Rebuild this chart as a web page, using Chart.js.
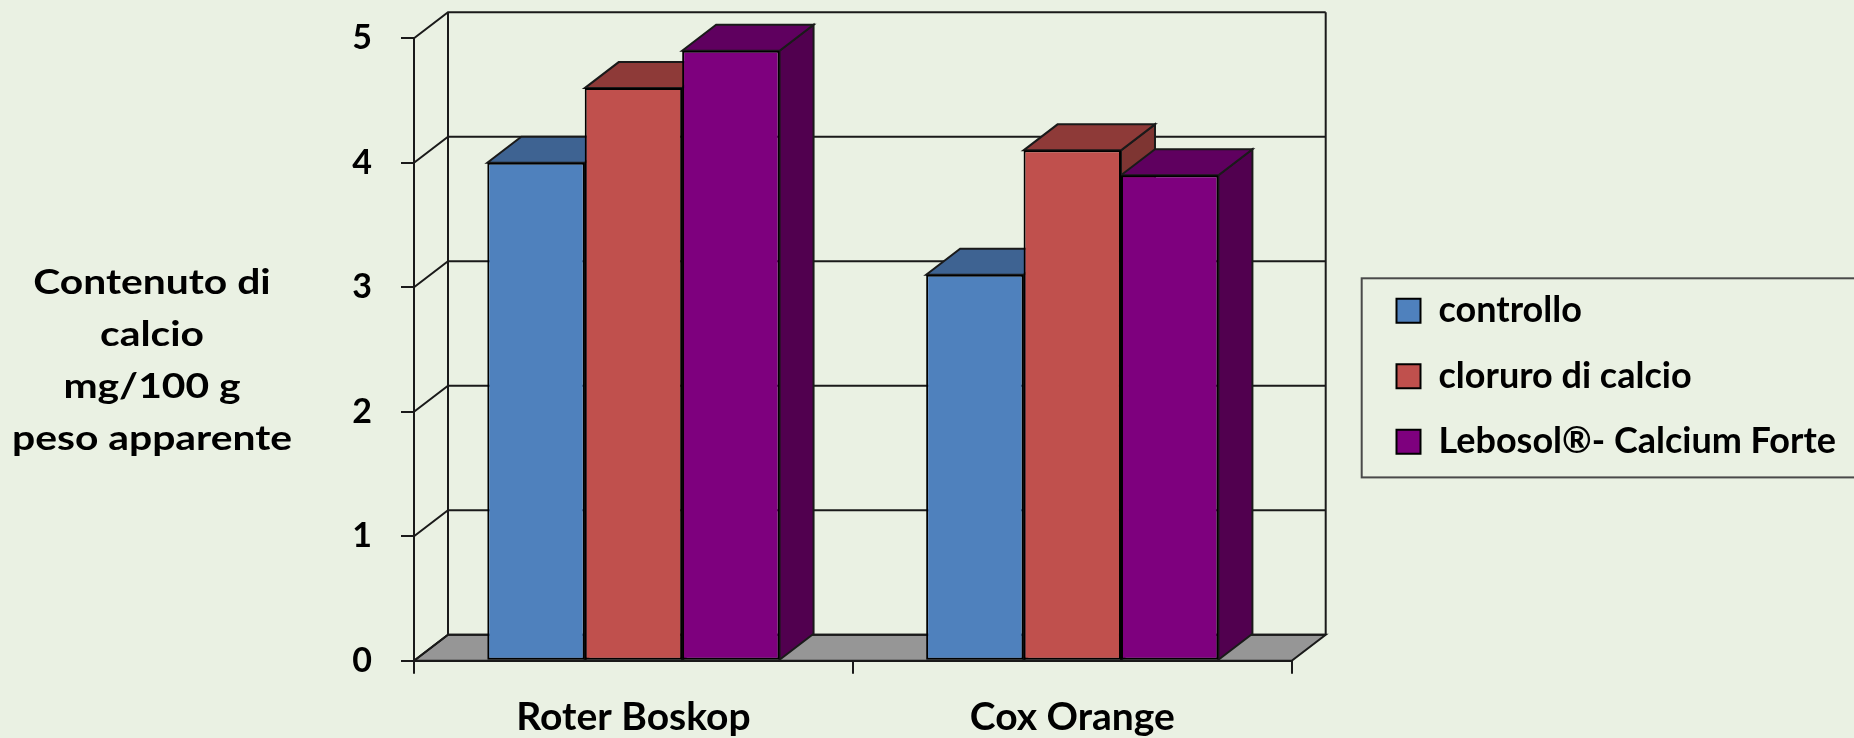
<!DOCTYPE html>
<html><head><meta charset="utf-8">
<script src="https://cdn.jsdelivr.net/npm/chart.js@4.4.1/dist/chart.umd.min.js"></script>
<style>
html,body{margin:0;padding:0;background:#EAF1E3;}
#wrap{position:relative;width:1854px;height:738px;overflow:hidden;}
canvas{position:absolute;left:0;top:0;}
#ytitle{position:absolute;left:-8px;top:255px;width:320px;text-align:center;font-family:Lato;font-weight:bold;font-size:34px;line-height:52px;color:#000;transform:scaleX(1.2);transform-origin:160px 0;}
</style></head><body>
<div id="wrap"><canvas id="c" width="1854" height="738"></canvas><div id="ytitle"></div></div>
<script>
// ---- data ----
const categories = ['Roter Boskop', 'Cox Orange'];
const seriesLabels = ['controllo', 'cloruro di calcio', 'Lebosol®- Calcium Forte'];
const controlloValues = [4.0, 3.1];
const cloruroValues = [4.6, 4.1];
const lebosolValues = [4.9, 3.9];
const yTickValues = [0, 1, 2, 3, 4, 5];
const yTitleLines = ['Contenuto di', 'calcio', 'mg/100 g', 'peso apparente'];

// ---- styles ----
const FRONT = ['#4F81BD', '#C0504D', '#7E007E'];
const TOPC = ['#3E6392', '#8E3A38', '#5F005F'];
const SIDEC = ['#33527A', '#7E3532', '#51004F'];
const DX = 34, DY = 26;
const LINE = '#1a1a1a';
const FONT = 'Lato';

document.getElementById('ytitle').innerHTML = yTitleLines.join('<br>');

const seriesValues = [controlloValues, cloruroValues, lebosolValues];

const threeD = {
  id: 'threeD',
  afterLayout(chart) {
    const lg = chart.legend;
    const w = lg.width;
    lg.left = 1367; lg.right = 1367 + w;
    lg.top = 376.3 - 200; lg.bottom = 376.3 + 200; lg.height = 400;
  },
  beforeDatasetsDraw(chart) {
    const {ctx, chartArea: a, scales: {y}} = chart;
    ctx.save();
    ctx.lineWidth = 2; ctx.strokeStyle = LINE; ctx.lineJoin = 'miter';
    const y0 = y.getPixelForValue(0);
    // floor
    ctx.beginPath();
    ctx.moveTo(a.left, y0); ctx.lineTo(a.left + DX, y0 - DY);
    ctx.lineTo(a.right + DX, y0 - DY); ctx.lineTo(a.right, y0); ctx.closePath();
    ctx.fillStyle = '#969696'; ctx.fill(); ctx.stroke();
    // side wall diagonals + back wall grid
    y.ticks.forEach(t => {
      const py = y.getPixelForValue(t.value);
      ctx.beginPath();
      ctx.moveTo(a.left, py); ctx.lineTo(a.left + DX, py - DY); ctx.lineTo(a.right + DX, py - DY);
      ctx.stroke();
    });
    const yt = y.getPixelForValue(y.max);
    ctx.beginPath();
    ctx.moveTo(a.left + DX, yt - DY); ctx.lineTo(a.left + DX, y0 - DY);
    ctx.moveTo(a.right + DX, yt - DY); ctx.lineTo(a.right + DX, y0 - DY);
    ctx.stroke();
    // bar top and side faces
    const n = chart.data.datasets.length;
    const count = chart.data.labels.length;
    for (let j = 0; j < count; j++) {
      for (let i = 0; i < n; i++) {
        const ds = chart.data.datasets[i];
        const bar = chart.getDatasetMeta(i).data[j];
        const p = bar.getProps(['x', 'y', 'base', 'width'], true);
        const l = p.x - p.width / 2, r = p.x + p.width / 2;
        ctx.beginPath();
        ctx.moveTo(r, p.y); ctx.lineTo(r + DX, p.y - DY); ctx.lineTo(r + DX, p.base - DY); ctx.lineTo(r, p.base); ctx.closePath();
        ctx.fillStyle = ds.sideColor; ctx.fill(); ctx.stroke();
        ctx.beginPath();
        ctx.moveTo(l, p.y); ctx.lineTo(l + DX, p.y - DY); ctx.lineTo(r + DX, p.y - DY); ctx.lineTo(r, p.y); ctx.closePath();
        ctx.fillStyle = ds.topColor; ctx.fill(); ctx.stroke();
      }
    }
    ctx.restore();
  },
  afterDraw(chart) {
    const hb = chart.legend.legendHitBoxes;
    if (!hb || !hb.length) return;
    const ctx = chart.ctx;
    const first = hb[0], last = hb[hb.length - 1];
    const left = first.left - 34.8;
    const top = first.top + first.height / 2 - 32.5;
    const bottom = last.top + last.height / 2 + 35.6;
    ctx.save();
    ctx.strokeStyle = '#4a4a4a'; ctx.lineWidth = 2;
    ctx.strokeRect(left, top, chart.width + 20 - left, bottom - top);
    ctx.restore();
  }
};

const chart = new Chart(document.getElementById('c'), {
  type: 'bar',
  data: {
    labels: categories,
    datasets: seriesLabels.map((lab, i) => ({
      label: lab,
      data: seriesValues[i],
      backgroundColor: FRONT[i],
      borderColor: '#000',
      borderWidth: 2,
      borderSkipped: false,
      topColor: TOPC[i],
      sideColor: SIDEC[i],
      categoryPercentage: 0.666,
      barPercentage: 1.0
    }))
  },
  options: {
    responsive: false,
    animation: false,
    devicePixelRatio: 1,
    layout: {padding: {left: 0, right: 0, top: 38.3, bottom: 0}},
    plugins: {
      tooltip: {enabled: false},
      legend: {
        position: 'right',
        align: 'center',
        maxWidth: 700,
        labels: {
          boxWidth: 24, boxHeight: 24, padding: 29.5,
          color: '#000',
          font: {family: FONT, weight: 'bold', size: 36}
        }
      }
    },
    scales: {
      x: {
        ticks: {color: '#000', padding: 20, maxRotation: 0, font: {family: FONT, weight: 'bold', size: 39}},
        grid: {drawOnChartArea: false, drawTicks: true, tickLength: 13, color: LINE, lineWidth: 2, offset: true},
        border: {display: true, color: LINE, width: 2},
        afterFit(s) { s.height = 738 - 660.7; }
      },
      y: {
        min: 0, max: 5,
        ticks: {color: '#000', padding: 29, stepSize: 1, font: {family: FONT, weight: 'bold', size: 34}},
        afterBuildTicks(s) { s.ticks = yTickValues.map(v => ({value: v})); },
        grid: {drawOnChartArea: false, drawTicks: true, tickLength: 13, color: LINE, lineWidth: 2},
        border: {display: true, color: LINE, width: 2},
        afterFit(s) { s.width = 414; s.paddingTop = 0; s.paddingBottom = 0; }
      },
      y2: {
        type: 'linear', position: 'right', min: 0, max: 1,
        ticks: {display: false}, grid: {display: false}, border: {display: false},
        afterFit(s) { s.width = s.chart.width - s.chart.legend.width - 1291.7; s.paddingTop = 0; s.paddingBottom = 0; }
      }
    }
  },
  plugins: [threeD]
});
</script>
</body></html>
